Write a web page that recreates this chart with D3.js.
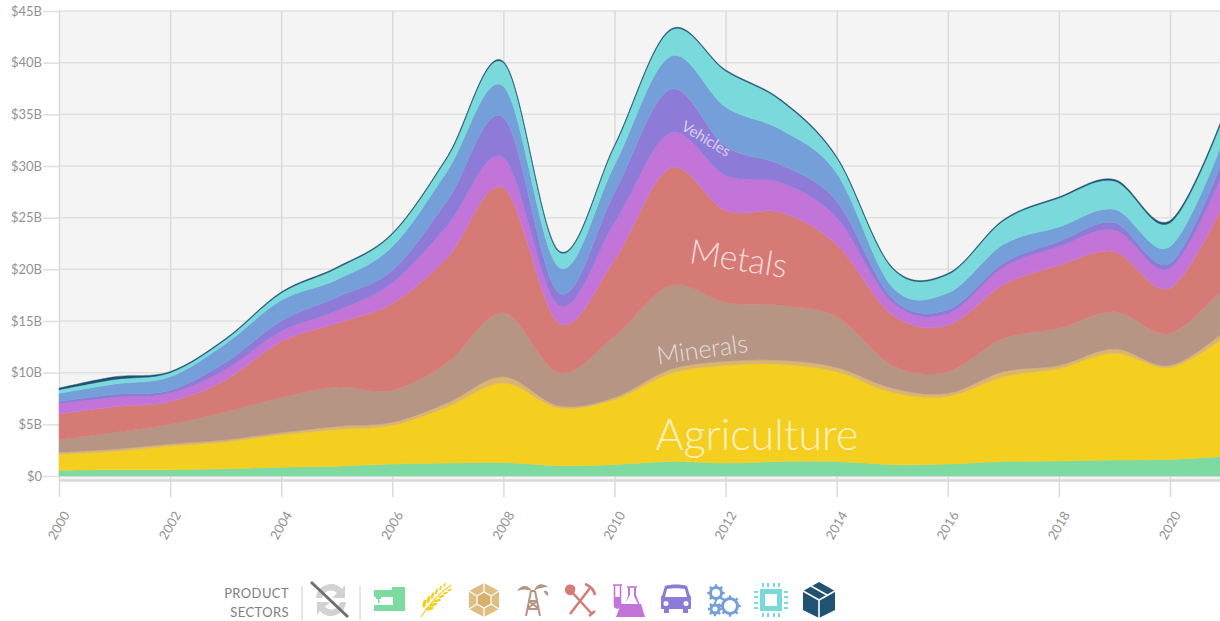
<!DOCTYPE html>
<html><head><meta charset="utf-8">
<script src="https://cdnjs.cloudflare.com/ajax/libs/d3/7.8.5/d3.min.js"></script>
<style>html,body{margin:0;padding:0;background:#fff}svg{display:block;font-family:Lato,sans-serif}</style>
</head><body><svg id="c" width="1220" height="621"></svg>
<script>
const years = d3.range(2000, 2022);
const yTickValues = [0,5,10,15,20,25,30,35,40,45];
const xTickValues = d3.range(2000, 2021, 2);
const textile     = [.55,.6,.6,.7,.85,.95,1.15,1.25,1.3,1.0,1.1,1.4,1.25,1.4,1.4,1.1,1.15,1.4,1.45,1.55,1.6,1.9];
const agriculture = [1.55,1.8,2.3,2.6,3.15,3.55,3.75,5.45,7.7,5.6,6.3,8.5,9.45,9.4,8.7,7.0,6.55,8.2,8.95,10.35,8.9,11.6];
const stone       = [.2,.2,.2,.2,.2,.3,.3,.4,.6,.2,.2,.4,.4,.4,.4,.4,.3,.5,.3,.4,.2,.6];
const minerals    = [1.2,1.6,1.9,2.7,3.4,3.8,3.1,3.9,6.2,3.2,5.9,8.1,5.7,5.3,4.9,2.2,2.1,3.2,3.6,3.6,3.1,4.3];
const metals      = [2.5,2.5,2.2,3.1,5.4,6.2,8.4,10.2,12.1,4.8,7.4,11.4,8.9,9.0,7.0,4.9,4.5,5.2,6.1,5.8,4.4,8.4];
const chemicals   = [1.0,.9,.8,1.0,1.0,1.2,2,3.1,2.9,1.7,3.6,3.4,3.4,2.9,2.6,1.2,1.1,1.7,1.8,2.1,1.9,3.2];
const vehicles    = [.2,.3,.3,.7,1,1.3,1.2,2.4,3.9,1.2,2.9,4.2,2.8,1.7,1.6,.4,.4,.4,.5,.7,.5,1.3];
const machinery   = [.8,1,1.3,1.8,2,1.7,2.3,2.9,3,2.5,2.7,3.2,3.8,3.4,2.7,1.1,1.6,1.8,1.4,1.3,1.6,1.8];
const electronics = [.35,.45,.4,.4,.7,1.1,1.2,1.3,2.3,1.5,1.8,2.5,3.5,2.8,1.5,1.8,1.8,2.3,2.8,2.75,2.3,2.2];
const other       = [.15,.25,.1,.1,.1,.1,.1,.1,.1,.1,.1,.1,.1,.1,.1,.1,.1,.1,.1,.15,.2,.2];

const seriesNames = ["Textiles","Agriculture","Stone","Minerals","Metals","Chemicals","Vehicles","Machinery","Electronics","Other"];
const seriesValues = [textile,agriculture,stone,minerals,metals,chemicals,vehicles,machinery,electronics,other];
const seriesColors = ["#7DDAA0","#F5CF1F","#D9B56E","#B79585","#D67A76","#C274D9","#8E7AD7","#759FD8","#79D9DB","#1F5273"];

const svg = d3.select("#c");
const x = d3.scaleLinear().domain([2000,2020]).range([59,1170]);
const y = d3.scaleLinear().domain([0,45]).range([476,11]);

svg.append("rect").attr("x",59).attr("y",11).attr("width",1161).attr("height",470).attr("fill","#f4f4f4");

const yAxis = d3.axisLeft(y).tickValues(yTickValues).tickFormat(d=>`$${d}${d?"B":""}`).tickSize(16).tickPadding(1);
const gy = svg.append("g").attr("transform","translate(59,0)").call(yAxis);
gy.select(".domain").remove();
gy.selectAll("line").attr("stroke","#dfdfdf").attr("stroke-width",1.5).attr("x2",-16);
gy.selectAll("text").attr("fill","#929292").attr("font-size",13).attr("font-family","Lato");
svg.append("g").selectAll("line").data(yTickValues).join("line")
  .attr("x1",59).attr("x2",1220).attr("y1",d=>y(d)).attr("y2",d=>y(d)).attr("stroke","#e0e0e0").attr("stroke-width",1.5);

const xAxis = d3.axisBottom(x).tickValues(xTickValues).tickFormat(d3.format("d")).tickSize(21);
const gx = svg.append("g").attr("transform","translate(0,476)").call(xAxis);
gx.select(".domain").remove();
gx.selectAll("line").attr("stroke","#dadada").attr("stroke-width",1.5).attr("y1",-465);
gx.selectAll("text").attr("fill","#929292").attr("font-size",13).attr("font-family","Lato")
  .attr("text-anchor","end").attr("dy",0).attr("transform","translate(8,37) rotate(-60)").attr("y",0).attr("x",0)
  .attr("dominant-baseline","middle");
svg.append("line").attr("x1",59).attr("x2",1220).attr("y1",480.5).attr("y2",480.5).attr("stroke","#d8d8d8").attr("stroke-width",2.5);

const table = years.map((yr,i)=>{const o={year:yr};seriesNames.forEach((n,j)=>o[n]=seriesValues[j][i]);return o;});
const stacked = d3.stack().keys(seriesNames)(table);
const area = d3.area().curve(d3.curveCardinal).x(d=>x(d.data.year)).y0(d=>y(d[0])).y1(d=>y(d[1]));
svg.append("g").selectAll("path").data(stacked).join("path")
  .attr("d",area).attr("fill",(d,i)=>seriesColors[i]).attr("stroke",(d,i)=>seriesColors[i]).attr("stroke-width",.5);

const labels = [
 {t:"Agriculture",year:2012.565,val:2.5,size:43,rot:0,op:.72,w:300},
 {t:"Metals",year:2012.2,val:19.9,size:34,rot:9,op:.72,w:300},
 {t:"Minerals",year:2011.6,val:11.4,size:25,rot:-8,op:.68,w:300},
 {t:"Vehicles",year:2011.6,val:32.2,size:15,rot:31,op:.65,w:400}
];
svg.append("g").selectAll("text").data(labels).join("text")
  .attr("text-anchor","middle").attr("font-family","Lato").attr("font-weight",d=>d.w).attr("font-size",d=>d.size)
  .attr("fill","#fff").attr("fill-opacity",d=>d.op)
  .attr("transform",d=>`translate(${x(d.year)},${y(d.val)}) rotate(${d.rot})`)
  .text(d=>d.t);

// legend
const lg = svg.append("g");
lg.append("text").attr("x",289).attr("y",598).attr("text-anchor","end").attr("font-size",13).attr("letter-spacing",.4).attr("fill","#808080").text("PRODUCT");
lg.append("text").attr("x",289).attr("y",617).attr("text-anchor","end").attr("font-size",13).attr("letter-spacing",.4).attr("fill","#808080").text("SECTORS");
[302,360].forEach(px=>lg.append("line").attr("x1",px).attr("x2",px).attr("y1",586).attr("y2",620).attr("stroke","#cccccc"));

const iconX = {services:331,textiles:389,agri:436,stone:484,oil:533,metal:580,chem:628,car:676,gears:723,chip:771,box:819};
const ic = (n,color)=>lg.append("g").attr("transform",`translate(${iconX[n]},600)`).attr("fill",color).attr("stroke","none");
const strokeOf = (g,d,c,w)=>g.append("path").attr("d",d).attr("fill","none").attr("stroke",c).attr("stroke-width",w);

// services
let g = ic("services","#d2d2d2");
g.append("path").attr("fill-rule","evenodd").attr("d","M-15 -2A15 15 0 0 1 11 -11L14 -15V-2H1L6 -7A9 9 0 0 0 -9 -2ZM15 2A15 15 0 0 1 -11 11L-14 15V2H-1L-6 7A9 9 0 0 0 9 2Z");
// textiles
g = ic("textiles","#7DDAA0");
g.append("path").attr("d","M-15 -10H3V-13H16V11H-15V5H4V-3H-8V-1H-9.5V3H-11V-1H-13V-3H-15Z");
// agriculture
g = ic("agri","#F5CF1F");
strokeOf(g,"M-15 17C-8 6 2 -6 15 -15","#F5CF1F",1.2);
[[-9,6],[-5,2],[-1,-2],[3,-6],[7,-9.5],[11,-12.5]].forEach(([a,b],i)=>{
  const s=1-i*.09;
  g.append("ellipse").attr("cx",a-2.5).attr("cy",b-2.5).attr("rx",4.2*s).attr("ry",1.7*s).attr("transform",`rotate(-75 ${a-2.5} ${b-2.5})`);
  g.append("ellipse").attr("cx",a+2.5).attr("cy",b+2.5).attr("rx",4.2*s).attr("ry",1.7*s).attr("transform",`rotate(-15 ${a+2.5} ${b+2.5})`);
});
// stone
g = ic("stone","#E0BE82");
g.append("path").attr("d","M0 -17L15 -9V9L0 17L-15 9V-9Z");
g.append("path").attr("d","M0 -8L7 -4V4L0 8L-7 4V-4Z").attr("fill","#D6AF68");
strokeOf(g,"M0 -17V-8M15 -9L7 -4M15 9L7 4M0 17V8M-15 9L-7 4M-15 -9L-7 -4M0 -8L7 -4V4L0 8L-7 4V-4Z","#fff",1.3);
// oil
g = ic("oil","#B79585");
strokeOf(g,"M-2 -9L-7 16M2 -9L7 16M-2 -9H2M-4 1H4M-6 9H6M-4 1L6 9M4 1L-6 9","#B79585",2);
g.append("path").attr("d","M-1 -9C-5 -16 -12 -15 -16 -9C-11 -11 -6 -11 -1 -9ZM1 -9C3 -16 9 -18 15 -13C10 -13 5 -12 1 -9ZM11 -9C14 -10 16 -7 15 -4C13 -5 11 -7 11 -9Z");
// metals
g = ic("metal","#D67A76");
strokeOf(g,"M-9 -9L12 14M10 -12L-10 14","#D67A76",2.4);
g.append("path").attr("d","M-15 -10C-15 -16 -8 -17 -5 -13C-4 -10 -5 -7 -8 -5C-11 -4 -15 -6 -15 -10Z");
strokeOf(g,"M5 -16C10 -14 14 -10 15 -5","#D67A76",2.6);
strokeOf(g,"M9 16L15 11","#D67A76",2.4);
// chemicals
g = ic("chem","#C274D9");
strokeOf(g,"M-15 -15H-6M-13.5 -15V5A3 3 0 0 0 -7.5 5V-15","#C274D9",1.6);
g.append("path").attr("d","M-13 -3H-8V5A2.5 2.5 0 0 1 -13 5Z");
strokeOf(g,"M-1 -13H9","#C274D9",1.6);
g.append("path").attr("d","M0 -12H2V-5L-9 15C-9 16 -8 17 -7 17H15C16 17 17 16 16 15L8 -5V-12H6V-4L15 14H-6L0 -4Z");
g.append("path").attr("d","M-7 4H13L17 17H-12Z");
// vehicles
g = ic("car","#8E7AD7");
g.append("path").attr("fill-rule","evenodd").attr("d","M-11 -14C-5 -16 5 -16 11 -14L14 -4H15V9H12V13H7V9H-7V13H-12V9H-15V-4H-14ZM-9 -11L-11 -3H11L9 -11C4 -12 -4 -12 -9 -11ZM-10 1A2.5 2.5 0 1 0 -10 6A2.5 2.5 0 1 0 -10 1ZM10 1A2.5 2.5 0 1 0 10 6A2.5 2.5 0 1 0 10 1Z");
// machinery
g = ic("gears","#759FD8");
[[-7,-7,5.5],[7,6,7.5],[-8,9,4]].forEach(([a,b,r])=>{
  g.append("circle").attr("cx",a).attr("cy",b).attr("r",r).attr("fill","none").attr("stroke","#759FD8").attr("stroke-width",3);
  const n = 8;
  d3.range(n).forEach(i=>{const t=i/n*2*Math.PI;
    g.append("line").attr("x1",a+Math.cos(t)*r).attr("y1",b+Math.sin(t)*r).attr("x2",a+Math.cos(t)*(r+3.2)).attr("y2",b+Math.sin(t)*(r+3.2)).attr("stroke","#759FD8").attr("stroke-width",2.4);
  });
});
// electronics
g = ic("chip","#79D9DB");
g.append("path").attr("fill-rule","evenodd").attr("d","M-11 -11H11V11H-11ZM-6 -6V6H6V-6Z");
[-8,-3,3,8].forEach(p=>{
  strokeOf(g,`M${p} -17V-13M${p} 13V17M-17 ${p}H-13M13 ${p}H17`,"#79D9DB",2);
});
// other
g = ic("box","#1F5273");
g.append("path").attr("d","M0 -18L16 -9V10L0 18L-16 10V-9Z");
strokeOf(g,"M-16 -9L0 0L16 -9M0 0V18M-8 -14L8 -5","#fff",1.6);

lg.append("line").attr("x1",311).attr("y1",582).attr("x2",348).attr("y2",617).attr("stroke","#707070").attr("stroke-width",3);
</script></body></html>
